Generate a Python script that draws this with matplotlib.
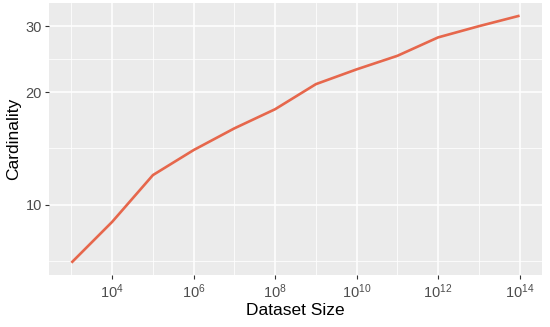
import matplotlib
matplotlib.use("Agg")
import matplotlib.pyplot as plt
from matplotlib.ticker import FixedLocator, NullFormatter

plt.rcParams['font.family'] = ['Liberation Sans', 'DejaVu Sans']
plt.rcParams['mathtext.fontset'] = 'custom'
plt.rcParams['mathtext.rm'] = 'Liberation Sans'
plt.rcParams['mathtext.it'] = 'Liberation Sans:italic'
plt.rcParams['mathtext.bf'] = 'Liberation Sans:bold'

dataset_size = [1e3, 1e4, 1e5, 1e6, 1e7, 1e8, 1e9, 1e10, 1e11, 1e12, 1e13, 1e14]
cardinality = [7, 9, 12, 14, 16, 18, 21, 23, 25, 28, 30, 32]
x_ticks = [1e4, 1e6, 1e8, 1e10, 1e12, 1e14]
x_tick_labels = [r'$10^{4}$', r'$10^{6}$', r'$10^{8}$', r'$10^{10}$', r'$10^{12}$', r'$10^{14}$']
x_minor = [1e3, 1e5, 1e7, 1e9, 1e11, 1e13]
y_ticks = [10, 20, 30]
y_minor = [7.071, 14.142, 24.495, 34.641]

fig = plt.figure(figsize=(5.5, 3.27), dpi=100)
ax = fig.add_axes([49/550, 1-275/327, (542-49)/550, (275-3)/327])
ax.set_facecolor('#EBEBEB')
ax.plot(dataset_size, cardinality, color='#E6674C', lw=1.9, solid_capstyle='butt', zorder=3)
ax.set_xscale('log')
ax.set_yscale('log')
ax.set_xlim(10**2.45, 10**14.55)
ax.set_ylim(6.49, 34.6)

ax.xaxis.set_major_locator(FixedLocator(x_ticks))
ax.set_xticklabels(x_tick_labels)
ax.xaxis.set_minor_locator(FixedLocator(x_minor))
ax.xaxis.set_minor_formatter(NullFormatter())
ax.yaxis.set_major_locator(FixedLocator(y_ticks))
ax.set_yticklabels([str(v) for v in y_ticks])
ax.yaxis.set_minor_locator(FixedLocator(y_minor))
ax.yaxis.set_minor_formatter(NullFormatter())

ax.grid(which='major', color='white', lw=1.1, zorder=1)
ax.grid(which='minor', color='white', lw=0.55, zorder=1)
ax.set_axisbelow(True)
for s in ax.spines.values():
    s.set_visible(False)
ax.tick_params(which='major', length=3, width=0.8, color='#333333', labelcolor='#4D4D4D', labelsize=10.5, pad=2)
ax.tick_params(which='minor', length=0)

ax.set_xlabel('Dataset Size', fontsize=12.5, color='black', labelpad=2)
ax.set_ylabel('Cardinality', fontsize=12.5, color='black', labelpad=3)

fig.savefig('out.png', dpi=100)
